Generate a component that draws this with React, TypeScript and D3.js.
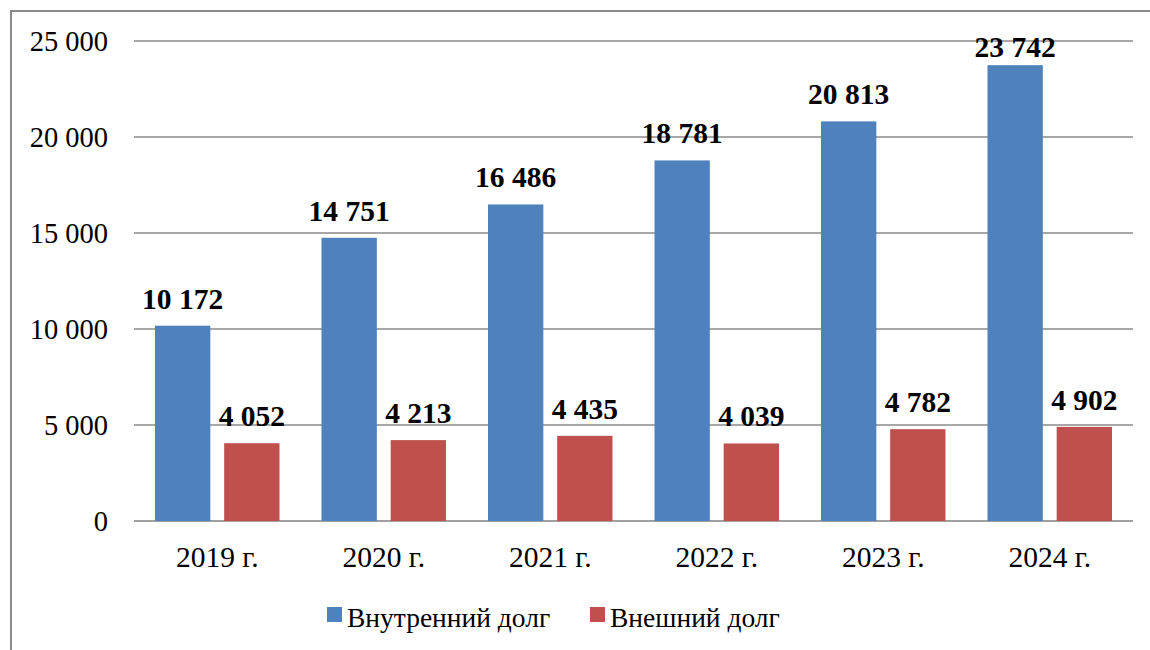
import React from "react";
import * as d3 from "d3";

const years = ["2019 г.", "2020 г.", "2021 г.", "2022 г.", "2023 г.", "2024 г."];
const internalDebt = [10172, 14751, 16486, 18781, 20813, 23742];
const externalDebt = [4052, 4213, 4435, 4039, 4782, 4902];
const seriesNames = ["Внутренний долг", "Внешний долг"];
const colors = ["#4F81BD", "#C0504D"];
const yTicks = [0, 5000, 10000, 15000, 20000, 25000];

const font = "Liberation Serif";

export default function App() {
  const left = 134,
    right = 1133,
    top = 41,
    bottom = 521;

  const x = d3.scaleBand<string>().domain(years).range([left, right]);
  const inner = d3
    .scaleBand<number>()
    .domain([0, 1])
    .range([21, x.bandwidth() - 21])
    .paddingInner(0.2);
  const y = d3.scaleLinear().domain([0, 25000]).range([bottom, top]);
  const fmt = (v: number) => d3.format(",")(v).replace(/,/g, " ");

  const series = [internalDebt, externalDebt];
  const legendX = [327, 590];

  return (
    <svg
      width={1150}
      height={650}
      fontFamily={font}
      style={{ position: "absolute", left: 0, top: 0, display: "block" }}
    >
      {/* outer frame, runs off the picture on the right and bottom */}
      <rect x={11} y={11} width={1300} height={800} fill="white" stroke="#8c8c8c" strokeWidth={2} />

      {yTicks.map((t) => (
        <g key={t}>
          <line
            x1={left}
            x2={right}
            y1={y(t)}
            y2={y(t)}
            stroke={t === 0 ? "#a0a0a0" : "#8a8a8a"}
            strokeWidth={t === 0 ? 2 : 1.3}
          />
          <text x={108} y={y(t) + 10} textAnchor="end" fontSize={28.5} fontFamily={font}>
            {fmt(t)}
          </text>
        </g>
      ))}

      {series.map((vals, i) => (
        <g key={i}>
          {vals.map((v, j) => {
            const bx = x(years[j])! + inner(i)!;
            return (
              <g key={j}>
                <rect x={bx} y={y(v)} width={inner.bandwidth()} height={y(0) - y(v)} fill={colors[i]} />
                <text
                  x={bx + inner.bandwidth() / 2}
                  y={Math.max(y(v) - 17, 57)}
                  textAnchor="middle"
                  fontWeight="bold"
                  fontSize={29.5}
                  fontFamily={font}
                >
                  {fmt(v)}
                </text>
              </g>
            );
          })}
        </g>
      ))}

      {years.map((d) => (
        <text key={d} x={x(d)! + x.bandwidth() / 2} y={567} textAnchor="middle" fontSize={29.5} fontFamily={font}>
          {d}
        </text>
      ))}

      {seriesNames.map((name, i) => (
        <g key={name}>
          <rect x={legendX[i]} y={607} width={15} height={15} fill={colors[i]} />
          <text x={legendX[i] + 20} y={627} fontSize={27.5} fontFamily={font}>
            {name}
          </text>
        </g>
      ))}
    </svg>
  );
}
